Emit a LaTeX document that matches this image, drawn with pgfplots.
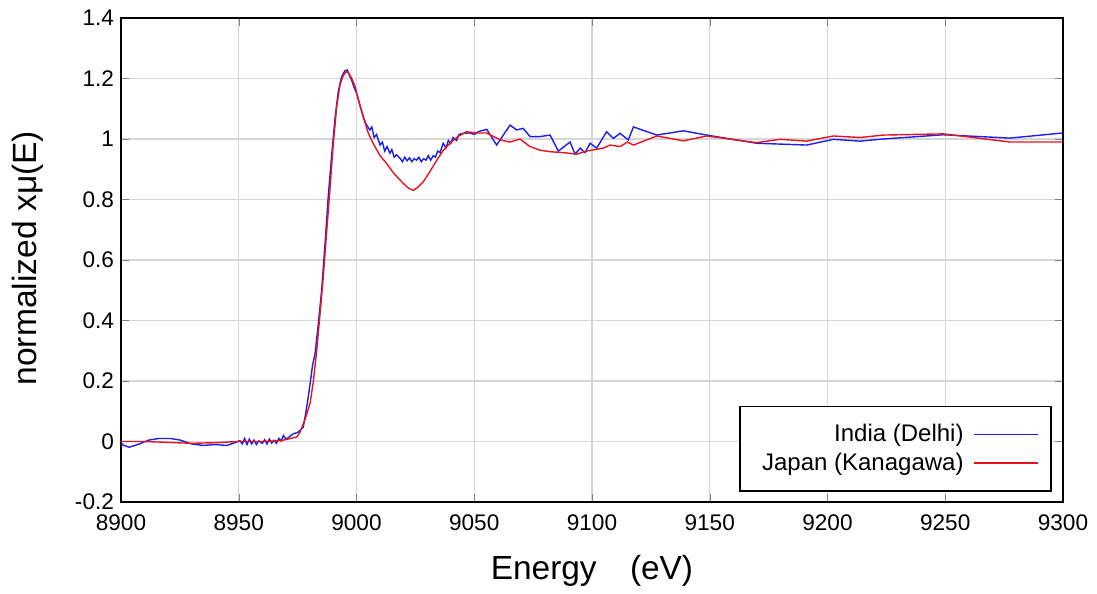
\documentclass[border=0pt]{standalone}
\usepackage{pgfplots}
\pgfplotsset{compat=1.18}
\usepackage{fontspec}
\setmainfont{Liberation Sans}

\definecolor{indiablue}{RGB}{30,30,235}
\definecolor{japanred}{RGB}{230,20,30}

\begin{document}
\begin{tikzpicture}
\begin{axis}[
    scale only axis,
    width=471pt, height=242pt,
    xmin=8900, xmax=9300,
    ymin=-0.2, ymax=1.4,
    xtick={8900,8950,...,9300},
    xticklabels={8900,8950,9000,9050,9100,9150,9200,9250,9300},
    ytick={-0.2,0,0.2,...,1.4},
    yticklabels={-0.2,0,0.2,0.4,0.6,0.8,1,1.2,1.4},
    tick label style={font=\fontsize{11.3}{13}\selectfont},
    xticklabel style={yshift=-3pt},
    tick align=inside, tick pos=both,
    major tick length=4pt,
    axis line style={black, line width=1pt},
    grid=major,
    major grid style={line width=0.6pt, draw=black!16},
    xlabel={Energy\hspace{1em}(eV)},
    ylabel={normalized xμ(E)},
    xlabel style={font=\fontsize{16.7}{19}\selectfont, at={(axis description cs:0.5,-0.1426)}, anchor=center},
    ylabel style={font=\fontsize{16.8}{19}\selectfont, at={(axis description cs:-0.0987,0.504)}, anchor=center},
    legend plot pos=right,
    legend cell align=right,
    legend image code/.code={\draw[#1] (0pt,0pt) -- (32pt,0pt);},
    legend style={at={(axis description cs:0.988,0.021)}, anchor=south east,
        font=\fontsize{12}{14}\selectfont, line width=0.7pt,
        inner xsep=6pt, inner ysep=7pt, row sep=0pt,
        /tikz/every odd column/.append style={column sep=3pt}},
]
\addplot[indiablue, line width=0.7pt] coordinates {
(8900,-0.005) (8901,-0.012) (8903.5,-0.019) (8907,-0.01) (8912,0.005)
(8916,0.01) (8921,0.01) (8925,0.005) (8930,-0.008) (8935,-0.013)
(8940,-0.01) (8945,-0.013) (8948,-0.005) (8950.5,0.003) (8951.5,-0.008)
(8952.5,0.01) (8953.5,-0.01) (8954.5,0.008) (8955.5,-0.008) (8956.5,0.005)
(8957.5,-0.01) (8958.5,0.002) (8960,-0.006) (8961,0.006) (8962,-0.008)
(8963,0.008) (8964,-0.005) (8965,0.004) (8966,-0.006) (8967,0.01)
(8968,0.002) (8969,0.02) (8970,0.008) (8971.5,0.015) (8973,0.025)
(8975,0.03) (8977.4,0.047) (8979,0.12) (8980.3,0.19) (8981.3,0.25)
(8982.4,0.29) (8983.8,0.39) (8985.2,0.50) (8986.6,0.65) (8988,0.81)
(8989.5,0.95) (8990.9,1.07) (8992.3,1.16) (8993.7,1.206) (8995,1.225)
(8996.1,1.228) (8997,1.21) (8997.9,1.195) (8999,1.17) (9000.1,1.15)
(9001.5,1.11) (9002.9,1.073) (9004,1.05) (9005.7,1.03) (9006.5,1.04)
(9007.5,1.005) (9008.5,1.015) (9010,0.98) (9011,0.99) (9012,0.96)
(9013,0.975) (9014.2,0.953) (9015,0.965) (9016,0.94) (9017,0.948)
(9018.5,0.936) (9019.5,0.925) (9020.5,0.94) (9021.5,0.928) (9022.5,0.938)
(9023.5,0.925) (9024.5,0.935) (9025.5,0.93) (9026.5,0.94) (9027.5,0.925)
(9028.5,0.935) (9029.5,0.93) (9030.5,0.945) (9031.5,0.93) (9032.6,0.945)
(9033.5,0.94) (9034.5,0.96) (9035.5,0.955) (9036.8,0.986) (9038,0.97)
(9039,0.995) (9040,0.985) (9041,1.005) (9042.5,0.995) (9043.5,1.015)
(9045.3,1.019) (9048,1.02) (9050,1.015) (9052,1.025) (9055.3,1.032)
(9059.5,0.98) (9065.2,1.046) (9068,1.03) (9070.8,1.035) (9073.7,1.008)
(9077.9,1.008) (9082.2,1.013) (9085.7,0.96) (9090.7,0.99) (9092.8,0.95)
(9095,0.97) (9097,0.955) (9099.2,0.986) (9102,0.97) (9106.2,1.024)
(9109.1,1.002) (9111.9,1.019) (9115.4,0.997) (9117.6,1.04) (9127.5,1.013)
(9138.8,1.027) (9148.7,1.013) (9169.9,0.986) (9191.2,0.98) (9202.5,0.999)
(9213.8,0.993) (9223.7,1.0) (9249.2,1.014) (9277.5,1.003) (9300,1.02)
};
\addlegendentry{India (Delhi)}
\addplot[japanred, line width=0.7pt] coordinates {
(8900,0.0) (8910,0.0) (8920,-0.003) (8930,-0.006) (8940,-0.004)
(8950,0.0) (8960,0.0) (8968,0.003) (8972,0.01) (8974.7,0.015)
(8976,0.031) (8978,0.07) (8980.3,0.126) (8981.7,0.2) (8983.1,0.30)
(8984.5,0.42) (8985.9,0.544) (8987.3,0.69) (8988.7,0.83) (8990.1,0.98)
(8991.6,1.107) (8993,1.18) (8994.4,1.21) (8995.5,1.222) (8996.5,1.22)
(8998,1.2) (8999.4,1.173) (9001,1.125) (9002.9,1.073) (9005,1.02)
(9007.1,0.985) (9010,0.945) (9012.8,0.919) (9016,0.885) (9019.9,0.853)
(9022,0.838) (9024.1,0.83) (9026,0.84) (9028.4,0.859) (9031,0.89)
(9034.1,0.93) (9036.8,0.962) (9039.7,0.986) (9043,1.008) (9046.8,1.024)
(9051,1.02) (9055.3,1.02) (9061,0.997) (9065.2,0.99) (9069.4,1.0)
(9073.7,0.975) (9077.9,0.963) (9082.2,0.958) (9087.8,0.955) (9093.5,0.95)
(9097.7,0.96) (9104.8,0.97) (9107.6,0.98) (9112,0.975) (9115,0.99)
(9117.6,0.98) (9127.5,1.01) (9138.8,0.994) (9148.7,1.01) (9169.9,0.988)
(9179.8,0.999) (9191.2,0.993) (9202.5,1.01) (9213.8,1.005) (9223.7,1.013)
(9249.2,1.017) (9277.5,0.99) (9300,0.99)
};
\addlegendentry{\hspace{3pt}Japan (Kanagawa)}
\end{axis}
\path ([xshift=-60.5pt,yshift=-45.5pt]current axis.south west) rectangle ([xshift=17pt,yshift=9pt]current axis.north east);
\end{tikzpicture}
\end{document}
